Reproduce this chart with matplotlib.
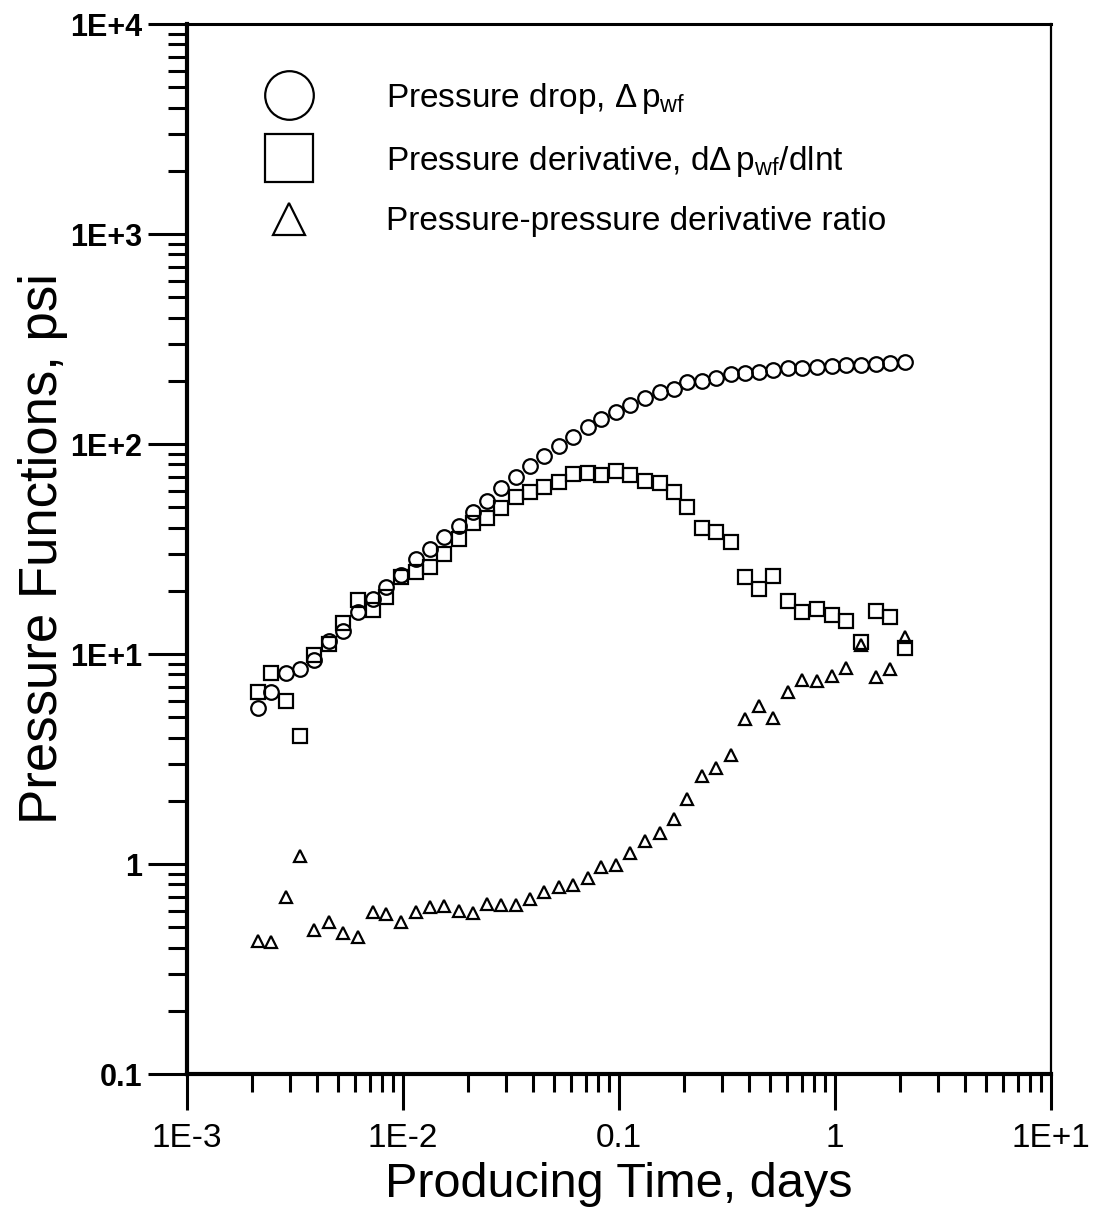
#!/usr/bin/env python3
"""Pressure drop, derivative and ratio vs producing time (log-log)."""
import matplotlib
matplotlib.use("Agg")
import matplotlib.pyplot as plt
from matplotlib.lines import Line2D
from matplotlib.ticker import LogLocator, FixedFormatter, FixedLocator, NullFormatter

plt.rcParams["font.family"] = ["Liberation Sans", "DejaVu Sans"]
plt.rcParams["mathtext.fontset"] = "custom"
plt.rcParams["mathtext.rm"] = "Liberation Sans"
plt.rcParams["mathtext.it"] = "Liberation Sans:italic"

# ── data ─────────────────────────────────────────────────────────────────────
time_days = [0.00213, 0.00245, 0.00287, 0.00334, 0.00389, 0.00454, 0.00529,
             0.00617, 0.00724, 0.00837, 0.00976, 0.01145, 0.01334, 0.01553,
             0.01811, 0.02110, 0.02448, 0.02852, 0.03325, 0.03873, 0.04510,
             0.05276, 0.06124, 0.07165, 0.08282, 0.09654, 0.1124, 0.1319,
             0.1540, 0.1788, 0.2075, 0.2423, 0.2822, 0.3283, 0.3831, 0.4462,
             0.5180, 0.6058, 0.7071, 0.8284, 0.9685, 1.130, 1.320, 1.548,
             1.797, 2.110]

pressure_drop = [5.55, 6.61, 8.09, 8.48, 9.36, 11.5, 12.8, 15.8, 18.2, 20.9,
                 23.8, 28.4, 31.5, 36.2, 40.7, 47.6, 53.6, 61.5, 69.9, 78.6,
                 87.7, 98.1, 108, 120, 131, 142, 154, 165, 176, 183,
                 197, 200, 206, 215, 217, 221, 225, 229, 231, 233,
                 236, 238, 239, 240, 244, 245]

pressure_deriv = [6.61, 8.09, 5.97, 4.07, 9.88, 11.2, 14.0, 18.1, 16.2, 18.7,
                  23.3, 24.6, 26.1, 29.8, 35.2, 41.9, 44.6, 49.4, 56.1, 59.3,
                  62.1, 65.7, 71.9, 72.6, 71.2, 74.1, 71.2, 66.6, 65.0, 59.3,
                  50.0, 39.7, 38.2, 34.0, 23.3, 20.3, 23.5, 17.9, 15.9, 16.4,
                  15.4, 14.4, 11.4, 16.0, 15.0, 10.7]

pd_ratio = [0.429, 0.424, 0.699, 1.09, 0.485, 0.531, 0.471, 0.448, 0.593, 0.578,
            0.531, 0.593, 0.625, 0.631, 0.599, 0.583, 0.643, 0.638, 0.638, 0.681,
            0.738, 0.780, 0.791, 0.861, 0.965, 0.989, 1.13, 1.29, 1.41, 1.63,
            2.04, 2.62, 2.86, 3.30, 4.89, 5.65, 4.94, 6.61, 7.52, 7.44,
            7.88, 8.61, 11.0, 7.80, 8.48, 12.1]

x_ticks = [1e-3, 1e-2, 1e-1, 1e0, 1e1]
x_labels = ["1E-3", "1E-2", "0.1", "1", "1E+1"]
y_ticks = [1e-1, 1e0, 1e1, 1e2, 1e3, 1e4]
y_labels = ["0.1", "1", "1E+1", "1E+2", "1E+3", "1E+4"]

legend_labels = [
    r"Pressure drop, $\Delta\,\mathrm{p}_{\mathrm{wf}}$",
    r"Pressure derivative, d$\Delta\,\mathrm{p}_{\mathrm{wf}}$/dlnt",
    "Pressure-pressure derivative ratio",
]

# ── figure ───────────────────────────────────────────────────────────────────
W, H = 1094, 1218
fig = plt.figure(figsize=(W / 100, H / 100), dpi=100)
ax = fig.add_axes([187 / W, 1 - 1074 / H, 864 / W, 1050 / H])

mk = dict(ls="none", mfc="none", mec="black", mew=1.6)
ax.plot(time_days, pressure_drop, marker="o", ms=10.5, **mk)
ax.plot(time_days, pressure_deriv, marker="s", ms=10.5, **mk)
ax.plot(time_days, pd_ratio, marker="^", ms=8.6, **mk)

ax.set_xscale("log")
ax.set_yscale("log")
ax.set_xlim(1e-3, 1e1)
ax.set_ylim(1e-1, 1e4)

ax.xaxis.set_major_locator(FixedLocator(x_ticks))
ax.xaxis.set_major_formatter(FixedFormatter(x_labels))
ax.yaxis.set_major_locator(FixedLocator(y_ticks))
ax.yaxis.set_major_formatter(FixedFormatter(y_labels))
for axis in (ax.xaxis, ax.yaxis):
    axis.set_minor_locator(LogLocator(base=10, subs=range(2, 10), numticks=20))
    axis.set_minor_formatter(NullFormatter())

ax.tick_params(which="both", direction="out", top=False, right=False,
               width=2.2, color="black")
ax.tick_params(axis="x", which="major", length=26, pad=9, labelsize=24)
ax.tick_params(axis="x", which="minor", length=13)
ax.tick_params(axis="y", which="major", length=28, pad=4, labelsize=22)
ax.tick_params(axis="y", which="minor", length=14)
for lab in ax.get_yticklabels():
    lab.set_fontweight("bold")

ax.spines["left"].set_linewidth(3.0)
ax.spines["bottom"].set_linewidth(3.0)
ax.spines["top"].set_linewidth(2.2)
ax.spines["right"].set_linewidth(1.6)

ax.set_xlabel("Producing Time, days", fontsize=35, labelpad=6)
ax.set_ylabel("Pressure Functions, psi", fontsize=38, labelpad=2)

# ── legend ───────────────────────────────────────────────────────────────────
handles = [
    Line2D([], [], marker="o", ms=35, **mk),
    Line2D([], [], marker="s", ms=34, **mk),
    Line2D([], [], marker="^", ms=23, **mk),
]
ax.legend(handles, legend_labels, loc="upper left",
          bbox_to_anchor=(0.0795, 0.9457), frameon=False, fontsize=24,
          borderpad=0, borderaxespad=0, handlelength=2.0,
          handletextpad=1.91, labelspacing=0.83)

fig.savefig("out.png", dpi=100)
plt.close(fig)
